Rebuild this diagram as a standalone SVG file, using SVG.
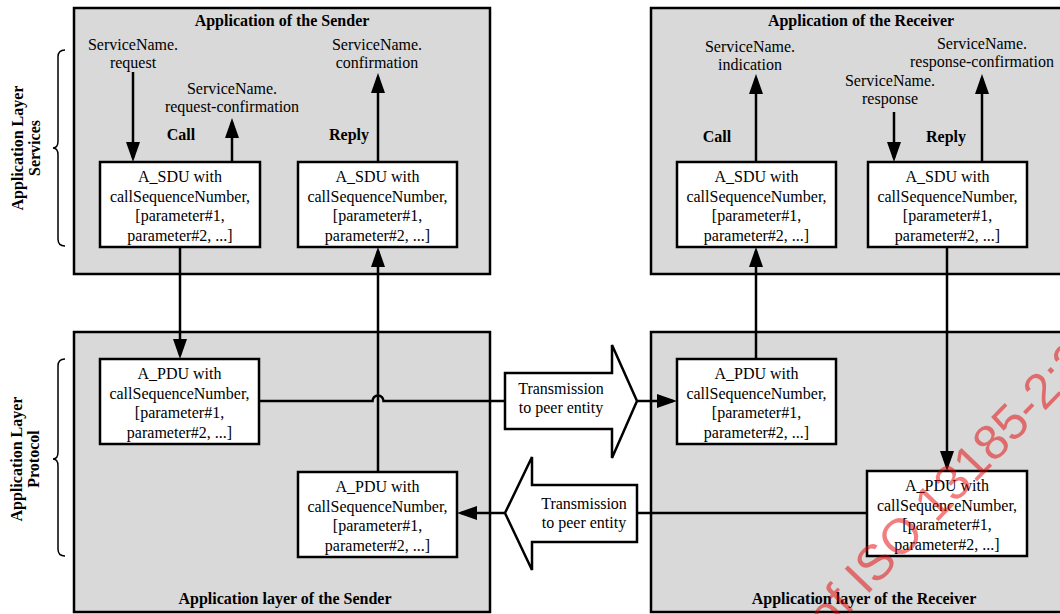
<svg xmlns="http://www.w3.org/2000/svg" width="1060" height="614" viewBox="0 0 1060 614">
<defs>
<style>
.outer{fill:#d9d9d9;stroke:#000;stroke-width:2.5}
.box{fill:#fff;stroke:#000;stroke-width:2.5}
.t{font-family:"Liberation Serif","Times New Roman",serif;font-size:16px;text-anchor:middle;fill:#000}
.b{font-weight:bold}
.ln{fill:none;stroke:#000;stroke-width:2.5}
.brace{fill:none;stroke:#000;stroke-width:1.5}
.wm{font-family:"Liberation Sans",Arial,sans-serif;font-size:50px;fill:#e60000;fill-opacity:0.5}
</style>
<marker id="ah" markerUnits="userSpaceOnUse" markerWidth="20" markerHeight="14" viewBox="0 0 20 14" refX="16" refY="7" orient="auto"><path d="M0,0 L20,7 L0,14 Z" fill="#000"/></marker>
</defs>
<rect width="1060" height="614" fill="#fff"/>

<g id="side-labels">
<path class="brace" d="M65,50 Q58,50 58,57 V141 Q58,148 53,148 Q58,148 58,155 V239 Q58,246 65,246"/>
<text class="t b" transform="translate(23,148) rotate(-90)">Application Layer</text>
<text class="t b" transform="translate(40,148) rotate(-90)">Services</text>
<path class="brace" d="M65,359 Q58,359 58,366 V452 Q58,459 53,459 Q58,459 58,466 V549 Q58,556 65,556"/>
<text class="t b" transform="translate(22,459) rotate(-90)">Application Layer</text>
<text class="t b" transform="translate(39,459) rotate(-90)">Protocol</text>
</g>

<g id="sender-application">
<rect class="outer" x="74" y="8" width="416" height="266"/>
<text class="t b" x="282" y="26">Application of the Sender</text>
<text class="t" x="133" y="50">ServiceName.</text>
<text class="t" x="133" y="68">request</text>
<text class="t" x="232" y="94">ServiceName.</text>
<text class="t" x="232" y="112">request-confirmation</text>
<text class="t" x="377" y="50">ServiceName.</text>
<text class="t" x="377" y="68">confirmation</text>
<text class="t b" x="181" y="140">Call</text>
<text class="t b" x="349" y="140">Reply</text>
</g>

<g id="receiver-application">
<rect class="outer" x="651" y="8" width="420" height="266"/>
<text class="t b" x="861" y="26">Application of the Receiver</text>
<text class="t" x="750" y="52">ServiceName.</text>
<text class="t" x="750" y="70">indication</text>
<text class="t" x="890" y="86">ServiceName.</text>
<text class="t" x="890" y="104">response</text>
<text class="t" x="982" y="49">ServiceName.</text>
<text class="t" x="982" y="67">response-confirmation</text>
<text class="t b" x="717" y="142">Call</text>
<text class="t b" x="946" y="142">Reply</text>
</g>

<g id="sender-layer">
<rect class="outer" x="74" y="332" width="416" height="280"/>
<text class="t b" x="285" y="604">Application layer of the Sender</text>
</g>

<g id="receiver-layer">
<rect class="outer" x="651" y="332" width="420" height="280"/>
<text class="t b" x="864" y="604">Application layer of the Receiver</text>
</g>

<g id="sender-sdu-call">
<rect class="box" x="100" y="162" width="160" height="85"/>
<text class="t" x="180" y="182">A_SDU with</text>
<text class="t" x="180" y="201.5">callSequenceNumber,</text>
<text class="t" x="180" y="221">[parameter#1,</text>
<text class="t" x="180" y="240.5">parameter#2, ...]</text>
</g>
<g id="sender-sdu-reply">
<rect class="box" x="298" y="162" width="159" height="85"/>
<text class="t" x="377.5" y="182">A_SDU with</text>
<text class="t" x="377.5" y="201.5">callSequenceNumber,</text>
<text class="t" x="377.5" y="221">[parameter#1,</text>
<text class="t" x="377.5" y="240.5">parameter#2, ...]</text>
</g>
<g id="receiver-sdu-call">
<rect class="box" x="677" y="162" width="159" height="85"/>
<text class="t" x="756.5" y="182">A_SDU with</text>
<text class="t" x="756.5" y="201.5">callSequenceNumber,</text>
<text class="t" x="756.5" y="221">[parameter#1,</text>
<text class="t" x="756.5" y="240.5">parameter#2, ...]</text>
</g>
<g id="receiver-sdu-reply">
<rect class="box" x="868" y="162" width="159" height="85"/>
<text class="t" x="947.5" y="182">A_SDU with</text>
<text class="t" x="947.5" y="201.5">callSequenceNumber,</text>
<text class="t" x="947.5" y="221">[parameter#1,</text>
<text class="t" x="947.5" y="240.5">parameter#2, ...]</text>
</g>
<g id="sender-pdu-call">
<rect class="box" x="100" y="359" width="159" height="85"/>
<text class="t" x="179.5" y="379">A_PDU with</text>
<text class="t" x="179.5" y="398.5">callSequenceNumber,</text>
<text class="t" x="179.5" y="418">[parameter#1,</text>
<text class="t" x="179.5" y="437.5">parameter#2, ...]</text>
</g>
<g id="sender-pdu-reply">
<rect class="box" x="298" y="472" width="159" height="85"/>
<text class="t" x="377.5" y="492">A_PDU with</text>
<text class="t" x="377.5" y="511.5">callSequenceNumber,</text>
<text class="t" x="377.5" y="531">[parameter#1,</text>
<text class="t" x="377.5" y="550.5">parameter#2, ...]</text>
</g>
<g id="receiver-pdu-call">
<rect class="box" x="677" y="359" width="159" height="85"/>
<text class="t" x="756.5" y="379">A_PDU with</text>
<text class="t" x="756.5" y="398.5">callSequenceNumber,</text>
<text class="t" x="756.5" y="418">[parameter#1,</text>
<text class="t" x="756.5" y="437.5">parameter#2, ...]</text>
</g>
<g id="receiver-pdu-reply">
<rect class="box" x="867" y="471" width="160" height="85"/>
<text class="t" x="947" y="491">A_PDU with</text>
<text class="t" x="947" y="510.5">callSequenceNumber,</text>
<text class="t" x="947" y="530">[parameter#1,</text>
<text class="t" x="947" y="549.5">parameter#2, ...]</text>
</g>

<g id="connectors">
<path class="ln" d="M133,72 V158" marker-end="url(#ah)"/>
<path class="ln" d="M232,162 V122" marker-end="url(#ah)"/>
<path class="ln" d="M378,162 V77" marker-end="url(#ah)"/>
<path class="ln" d="M180,247 V355" marker-end="url(#ah)"/>
<path class="ln" d="M378,472 V251" marker-end="url(#ah)"/>
<path class="ln" d="M259,401 H372.5 A5.5,5.5 0 0 1 383.5,401 H505"/>
<path class="ln" d="M637,401 H673" marker-end="url(#ah)"/>
<path class="ln" d="M756,359 V251" marker-end="url(#ah)"/>
<path class="ln" d="M756,162 V78" marker-end="url(#ah)"/>
<path class="ln" d="M894,112 V158" marker-end="url(#ah)"/>
<path class="ln" d="M982,162 V78" marker-end="url(#ah)"/>
<path class="ln" d="M947,247 V467" marker-end="url(#ah)"/>
<path class="ln" d="M867,513 H637"/>
<path class="ln" d="M505,513 H461" marker-end="url(#ah)"/>
</g>

<g id="transmission-forward">
<path class="box" d="M505,373 H612 V345 L637,401 L612,458 V429 H505 Z"/>
<text class="t" x="561" y="394">Transmission</text>
<text class="t" x="561" y="413">to peer entity</text>
</g>
<g id="transmission-back">
<path class="box" d="M637,485 H532 V457 L505,513 L532,570 V542 H637 Z"/>
<text class="t" x="584" y="509">Transmission</text>
<text class="t" x="584" y="528">to peer entity</text>
</g>

<g id="watermark">
<text class="wm" transform="translate(827.7,636) rotate(-46)">of ISO 13185-2:2015</text>
</g>
</svg>
